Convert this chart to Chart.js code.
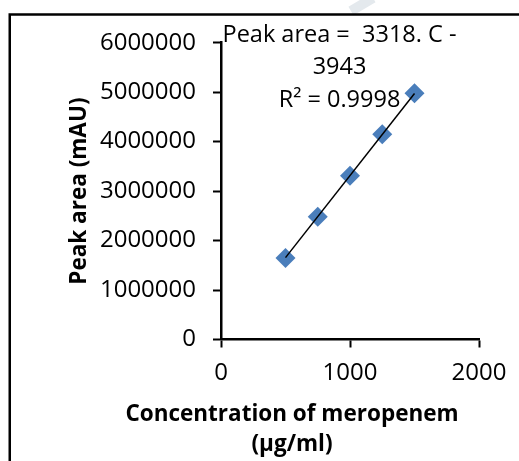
<!DOCTYPE html>
<html>
<head>
<meta charset="utf-8">
<script src="https://cdn.jsdelivr.net/npm/chart.js@4/dist/chart.umd.min.js"></script>
<style>
  html, body { margin:0; padding:0; background:#fff; }
  #chart { display:block; }
</style>
</head>
<body>
<canvas id="chart" width="519" height="461"></canvas>
<script>
// calibration data
const concentration = [500, 750, 1000, 1250, 1500];
const peakArea = [1650000, 2480000, 3310000, 4150000, 4980000];
const slope = 3318;
const intercept = -3943;
const eqLines = ['Peak area =  3318. C -', '3943', 'R\u00b2 = 0.9998'];
const xTitleLines = ['Concentration of meropenem', '(\u00b5g/ml)'];
const yTitle = 'Peak area (mAU)';

const FONT = '"Open Sans", "DejaVu Sans", sans-serif';

const points = concentration.map((c,i)=>({x:c, y:peakArea[i]}));
const xs = [Math.min(...concentration), Math.max(...concentration)];
const fitLine = xs.map(x=>({x, y: slope*x + intercept}));

// frame, faint mark at the top, x title and the equation text
const decor = {
  id:'decor',
  beforeDraw(chart){
    const c = chart.ctx;
    c.save();
    c.strokeStyle = '#e4e9ed';
    c.lineWidth = 10;
    c.beginPath(); c.moveTo(373,-2); c.lineTo(351,11); c.stroke();
    c.strokeStyle = '#000';
    c.lineWidth = 2.5;
    c.strokeRect(9.75, 14.5, 700, 700);
    c.restore();
  },
  afterDraw(chart){
    const c = chart.ctx;
    c.save();
    c.fillStyle = '#000';
    c.textAlign = 'center';
    c.textBaseline = 'middle';
    c.font = 'bold 22.5px ' + FONT;
    c.fillText(xTitleLines[0], 292, 415);
    c.fillText(xTitleLines[1], 292, 445);
    c.font = '23.5px ' + FONT;
    eqLines.forEach((t,i)=>c.fillText(t, 339.5, 35 + i*32.5));
    c.restore();
  }
};

const axisGrid = { display:true, drawOnChartArea:false, drawTicks:true, tickLength:8, tickWidth:2, tickColor:'#000' };
const axisBorder = { display:true, color:'#000', width:2.5 };
const plainNum = v => String(v);

new Chart(document.getElementById('chart'), {
  type:'scatter',
  data:{
    datasets:[
      { label:'Linear fit', type:'line', data:fitLine, borderColor:'#000', borderWidth:1.5,
        pointRadius:0, fill:false, tension:0 },
      { label:'Peak area', data:points, backgroundColor:'#4a7ebb', borderWidth:0,
        pointStyle:'rectRot', pointRadius:10, pointHoverRadius:10 }
    ]
  },
  options:{
    responsive:false,
    animation:false,
    events:[],
    layout:{ padding:{ left:0, right:40, top:42.7, bottom:0 } },
    plugins:{ legend:{display:false}, tooltip:{enabled:false} },
    scales:{
      x:{
        type:'linear', min:0, max:2000,
        ticks:{ stepSize:1000, color:'#000', padding:11, font:{family:FONT, size:24}, callback:plainNum },
        grid:axisGrid, border:axisBorder,
        afterFit(scale){ scale.height = 461 - 339.5; }
      },
      y:{
        type:'linear', min:0, max:6000000,
        ticks:{ stepSize:1000000, color:'#000', padding:17, font:{family:FONT, size:24}, callback:plainNum },
        grid:axisGrid, border:axisBorder,
        title:{ display:true, text:yTitle, color:'#000', padding:{top:66.5, bottom:0},
                font:{family:FONT, size:22.5, weight:'bold'} },
        afterFit(scale){ scale.width = 221; }
      }
    }
  },
  plugins:[decor]
});
</script>
</body>
</html>
